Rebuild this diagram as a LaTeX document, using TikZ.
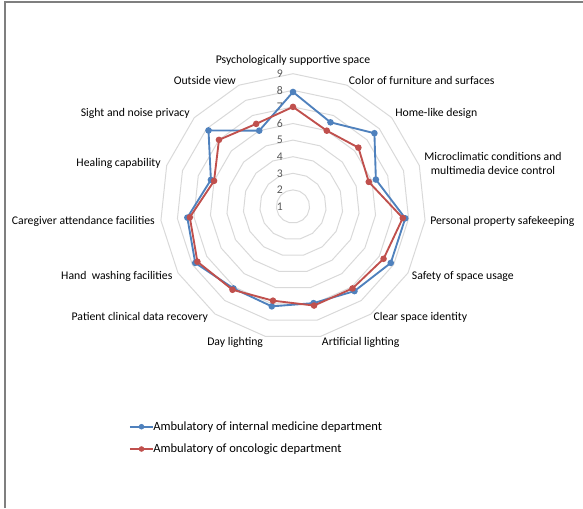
\documentclass[tikz,border=0pt]{standalone}
\usepackage{fontspec}
\setmainfont{Carlito}
\usepackage{xcolor}
\usepackage{tikz}
\usetikzlibrary{calc}

\definecolor{serblue}{HTML}{4F81BD}
\definecolor{serred}{HTML}{C0504D}
\definecolor{gridgray}{HTML}{D9D9D9}
\definecolor{tickgray}{HTML}{595959}
\definecolor{framegray}{HTML}{7F7F7F}

\tikzset{
  catlabel/.style={inner sep=0pt,font=\fontsize{8.8}{10}\selectfont},
  ticklabel/.style={inner sep=0pt,anchor=east,text=tickgray,font=\fontsize{8.8}{10}\selectfont},
  legtext/.style={inner sep=0pt,anchor=west,font=\fontsize{9.4}{11}\selectfont},
  seriesline/.style={line width=1.4pt,line join=round},
  gridring/.style={gridgray,line width=0.75pt},
}

\def\unitr{16.6}
\def\bluevals{7.9,6.55,7.6,6.25,7.8,7.8,7.3,6.95,7.15,7.1,7.8,7.4,6.2,7.85,6.0}
\def\redvals{7.0,6.0,6.3,5.8,7.65,7.3,7.1,7.1,6.8,7.2,7.65,7.25,6.0,7.0,6.45}

\begin{document}
\begin{tikzpicture}[x=0.75pt,y=0.75pt]
\useasboundingbox (-293,-301.5) rectangle (290,206.5);
\draw[framegray,line width=1.2pt] (-288,-301.5) -- (-288,204.5) -- (290,204.5);

    % grid rings
    \foreach \k in {2,...,9}{
      \draw[gridring] (90:{(\k-1)*\unitr})
        \foreach \i in {1,...,14}{ -- ({90-24*\i}:{(\k-1)*\unitr}) } -- cycle;
    }
    \foreach \k in {1,...,9}
      \node[ticklabel] (tick\k) at (-10,{(\k-1)*\unitr}) {\k};

    % series points
    \foreach \v [count=\i from 0] in \bluevals
      \coordinate (b\i) at ({90-24*\i}:{(\v-1)*\unitr});
    \foreach \v [count=\i from 0] in \redvals
      \coordinate (r\i) at ({90-24*\i}:{(\v-1)*\unitr});

    \draw[serblue,seriesline] (b0) \foreach \i in {1,...,14}{ -- (b\i) } -- cycle;
    \foreach \i in {0,...,14} \fill[serblue] (b\i) circle(3.3);
    \draw[serred,seriesline] (r0) \foreach \i in {1,...,14}{ -- (r\i) } -- cycle;
    \foreach \i in {0,...,14} \fill[serred] (r\i) circle(3.3);

    % category labels
    \node[catlabel] (psych) at (0,146) {Psychologically supportive space};
    \node[catlabel,anchor=west] (color) at (55.7,126.5) {Color of furniture and surfaces};
    \node[catlabel,anchor=west] (homelike) at (102,93.2) {Home-like design};
    \node[catlabel,align=center] (micro) at (200,43.1) {Microclimatic conditions and\\multimedia device control};
    \node[catlabel,anchor=west] (property) at (137,-14.5) {Personal property safekeeping};
    \node[catlabel,anchor=west] (safety) at (118.7,-69.5) {Safety of space usage};
    \node[catlabel,anchor=west] (identity) at (80.3,-111.2) {Clear space identity};
    \node[catlabel,anchor=west] (artificial) at (28.7,-135.8) {Artificial lighting};
    \node[catlabel,anchor=east] (daylight) at (-29.7,-135.8) {Day lighting};
    \node[catlabel,anchor=east] (clinical) at (-84.7,-111.2) {Patient clinical data recovery};
    \node[catlabel,anchor=east] (washing) at (-120.3,-69.5) {Hand\ \ washing facilities};
    \node[catlabel,anchor=east] (caregiver) at (-138,-14.5) {Caregiver attendance facilities};
    \node[catlabel,anchor=east] (healing) at (-132,43.2) {Healing capability};
    \node[catlabel,anchor=east] (privacy) at (-103,93.2) {Sight and noise privacy};
    \node[catlabel,anchor=east] (outside) at (-57,126.5) {Outside view};

    % legend
    \coordinate (blueA) at (-163,-220.2);
    \coordinate (blueB) at (-140,-220.2);
    \coordinate (redA) at (-163,-242.5);
    \coordinate (redB) at (-140,-242.5);
    \draw[serblue,line width=1.2pt] (blueA) -- (blueB);
    \fill[serblue] ($(blueA)!0.5!(blueB)$) circle(2.8);
    \node[legtext] (blueleg) at (blueB) {Ambulatory of internal medicine department};
    \draw[serred,line width=1.2pt] (redA) -- (redB);
    \fill[serred] ($(redA)!0.5!(redB)$) circle(2.8);
    \node[legtext] (redleg) at (redB) {Ambulatory of oncologic department};

\end{tikzpicture}
\end{document}
